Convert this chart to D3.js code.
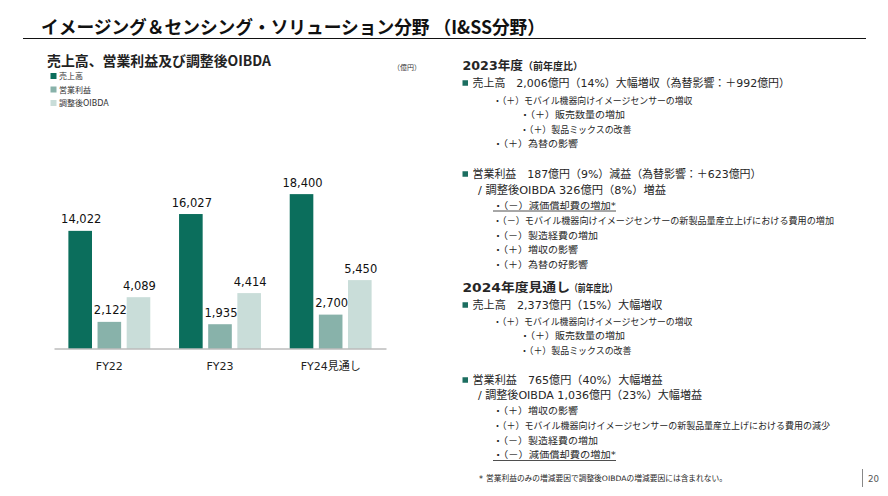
<!DOCTYPE html>
<html><head><meta charset="utf-8">
<script src="https://cdn.jsdelivr.net/npm/d3@7"></script>
<style>
html,body{margin:0;padding:0;background:#fff;}
svg{display:block;}
</style></head>
<body>
<svg id="c" width="888" height="496"></svg>
<script>
// ---- data ----
const categories = ["FY22", "FY23", "FY24見通し"];
const seriesNames = ["売上高", "営業利益", "調整後OIBDA"];
const sales = [14022, 16027, 18400];
const operatingIncome = [2122, 1935, 2700];
const adjustedOIBDA = [4089, 4414, 5450];
const seriesColors = ["#0b6e5c", "#88b2aa", "#c9ddd9"];

const svg = d3.select("#c");
const CJK = "'DejaVu Sans','Noto Sans CJK JP',sans-serif";
const JP = "'Noto Sans CJK JP',sans-serif";
const txt = "#262626";

// title
svg.append("text").attr("x", 41).attr("y", 34)
  .attr("font-family", JP).attr("font-weight", 700).attr("font-size", 18)
  .attr("fill", "#111").attr("textLength", 504).attr("lengthAdjust", "spacingAndGlyphs")
  .text("イメージング＆センシング・ソリューション分野 （I&SS分野）");
svg.append("line").attr("x1", 23).attr("x2", 866).attr("y1", 38.5).attr("y2", 38.5)
  .attr("stroke", "#111").attr("stroke-width", 1);

// chart subtitle
svg.append("text").attr("x", 47).attr("y", 66)
  .attr("font-family", JP).attr("font-weight", 700).attr("font-size", 14)
  .attr("fill", "#222").attr("textLength", 224).attr("lengthAdjust", "spacingAndGlyphs")
  .text("売上高、営業利益及び調整後OIBDA");
svg.append("text").attr("x", 393).attr("y", 70)
  .attr("font-family", JP).attr("font-size", 7).attr("fill", "#333")
  .text("（億円）");

// legend
const leg = svg.append("g");
seriesNames.forEach((n, i) => {
  const yy = 76 + i * 13.5;
  leg.append("rect").attr("x", 50.5).attr("y", yy - 3).attr("width", 6).attr("height", 6).attr("fill", seriesColors[i]);
  leg.append("text").attr("x", 59).attr("y", yy + 3).attr("font-family", CJK).attr("font-size", 8).attr("fill", "#333").text(n);
});

// bars: sales on its own scale, profits on a larger scale (as in the original)
const x0 = d3.scaleBand().domain(categories).range([54, 386]).paddingInner(0.26).paddingOuter(0.13);
const x1 = d3.scaleBand().domain(seriesNames).range([0, x0.bandwidth()]).paddingInner(0.19).paddingOuter(0);
const base = 348.5;
const ySales = d3.scaleLinear().domain([0, 20000]).range([base, base - 167.8]);
const yProfit = d3.scaleLinear().domain([0, 6000]).range([base, base - 75.3]);
const scaleFor = j => (j === 0 ? ySales : yProfit);

const rows = categories.map((c, i) => ({cat: c, vals: [sales[i], operatingIncome[i], adjustedOIBDA[i]]}));
const g = svg.append("g");
const groups = g.selectAll("g.grp").data(rows).join("g").attr("class", "grp")
  .attr("transform", d => `translate(${x0(d.cat)},0)`);
const items = d => d.vals.map((v, j) => ({k: seriesNames[j], v, j}));
groups.selectAll("rect").data(items)
  .join("rect")
  .attr("x", d => x1(d.k)).attr("width", x1.bandwidth())
  .attr("y", d => scaleFor(d.j)(d.v)).attr("height", d => base - scaleFor(d.j)(d.v))
  .attr("fill", d => seriesColors[d.j]);
groups.selectAll("text.val").data(items)
  .join("text").attr("class", "val")
  .attr("x", d => x1(d.k) + x1.bandwidth() / 2 + 1)
  .attr("y", d => scaleFor(d.j)(d.v) - 7.5)
  .attr("text-anchor", "middle")
  .attr("font-family", "'DejaVu Sans',sans-serif").attr("font-size", 11.5).attr("fill", "#111")
  .text(d => d3.format(",")(d.v));

// axis
const xAxis = d3.axisBottom(x0).tickSize(0).tickPadding(14);
const ax = svg.append("g").attr("transform", `translate(0,${base})`).call(xAxis);
ax.select(".domain").attr("stroke", "#9a9a9a").attr("stroke-width", 1);
ax.selectAll("text").attr("font-family", CJK).attr("font-size", 11).attr("fill", "#222");

// right panel text
const teal = "#1c6e60";
function line(t, x, yb, size, end, opts = {}) {
  const el = svg.append("text").attr("x", x).attr("y", yb)
    .attr("font-family", opts.font || CJK).attr("font-size", size)
    .attr("font-weight", opts.bold ? 700 : 400).attr("fill", opts.fill || txt)
    .text(t);
  if (end) el.attr("textLength", end - x).attr("lengthAdjust", "spacingAndGlyphs");
  if (opts.underline) {
    svg.append("line").attr("x1", x).attr("x2", end).attr("y1", yb + 2.5).attr("y2", yb + 2.5)
      .attr("stroke", "#222").attr("stroke-width", 0.8);
  }
  return el;
}
function bullet(yc) {
  svg.append("rect").attr("x", 462.5).attr("y", yc - 2.75).attr("width", 5.5).attr("height", 5.5).attr("fill", teal);
}

line("2023年度", 462.5, 70, 12.5, 523, {bold: true});
line("（前年度比）", 523, 70, 10, 583, {bold: true, font: JP});
bullet(83);
line("売上高　2,006億円（14%）大幅増収（為替影響：＋992億円）", 472.5, 87, 11, 790);
line("・（＋）モバイル機器向けイメージセンサーの増収", 493, 104, 9.5, 692.5);
line("・（＋）販売数量の増加", 520, 118, 9.5, 625);
line("・（＋）製品ミックスの改善", 520, 132.5, 9.5, 631.5);
line("・（＋）為替の影響", 493, 147, 9.5, 578);

bullet(174);
line("営業利益　187億円（9%）減益（為替影響：＋623億円）", 472.5, 178, 11, 761.5);
line("/ 調整後OIBDA 326億円（8%）増益", 478, 194, 11, 666);
line("・（－）減価償却費の増加*", 493, 208.5, 9.5, 616, {underline: true});
line("・（－）モバイル機器向けイメージセンサーの新製品量産立上げにおける費用の増加", 493, 223.5, 9.5, 834);
line("・（－）製造経費の増加", 493, 238.5, 9.5, 598);
line("・（＋）増収の影響", 493, 253, 9.5, 578);
line("・（＋）為替の好影響", 493, 267.5, 9.5, 588);

line("2024年度見通し", 462.5, 291.5, 12.5, 570, {bold: true});
line("（前年度比）", 570, 291.5, 10, 617, {bold: true, font: JP});
bullet(305);
line("売上高　2,373億円（15%）大幅増収", 472.5, 309, 11, 662.5);
line("・（＋）モバイル機器向けイメージセンサーの増収", 493, 325, 9.5, 692.5);
line("・（＋）販売数量の増加", 520, 339, 9.5, 625);
line("・（＋）製品ミックスの改善", 520, 354, 9.5, 631.5);

bullet(380);
line("営業利益　765億円（40%）大幅増益", 472.5, 384, 11, 662.5);
line("/ 調整後OIBDA 1,036億円（23%）大幅増益", 478, 399, 11, 702);
line("・（＋）増収の影響", 493, 414, 9.5, 578);
line("・（＋）モバイル機器向けイメージセンサーの新製品量産立上げにおける費用の減少", 493, 429, 9.5, 830);
line("・（－）製造経費の増加", 493, 444, 9.5, 598);
line("・（－）減価償却費の増加*", 493, 458, 9.5, 616, {underline: true});

line("*", 479, 482, 8, null);
line("営業利益のみの増減要因で調整後OIBDAの増減要因には含まれない。", 486, 481, 7.5, 727);

svg.append("line").attr("x1", 862.5).attr("x2", 862.5).attr("y1", 469).attr("y2", 487)
  .attr("stroke", "#888").attr("stroke-width", 1);
line("20", 868, 481.5, 9, 879, {fill: "#555"});
</script>
</body></html>
